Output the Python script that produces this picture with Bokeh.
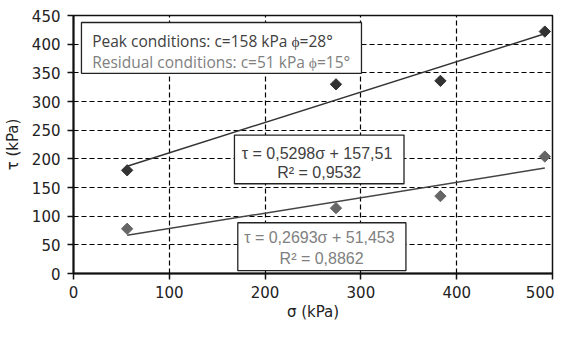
from bokeh.plotting import figure
from bokeh.models import Range1d, Label, BoxAnnotation, FixedTicker
from bokeh.embed import file_html
from bokeh.resources import INLINE
import numpy as np

# Data
sigma = [56, 274, 383, 492]
tau_peak = [180, 330, 336, 422]
tau_resid = [78, 114, 135, 204]

peak_slope, peak_icpt = 0.5298, 157.51
res_slope, res_icpt = 0.2693, 51.453

x_ticks = [0, 100, 200, 300, 400, 500]
y_ticks = [0, 50, 100, 150, 200, 250, 300, 350, 400, 450]

legend_lines = ["Peak conditions: c=158 kPa \u03d5=28\u00b0", "Residual conditions: c=51 kPa \u03d5=15\u00b0"]
eq_peak = ["\u03c4 = 0,5298\u03c3  + 157,51", "R\u00b2 = 0,9532"]
eq_res = ["\u03c4 = 0,2693\u03c3  + 51,453", "R\u00b2 = 0,8862"]

p = figure(width=554, height=323, output_backend="svg", toolbar_location=None,
           x_range=Range1d(0, 500), y_range=Range1d(0, 450),
           min_border_left=72, min_border_right=2, min_border_top=15, min_border_bottom=44)
p.outline_line_color = "#111111"
p.outline_line_width = 1.5
p.background_fill_color = "white"
p.border_fill_color = "white"

for ax, ticks in ((p.xaxis[0], x_ticks), (p.yaxis[0], y_ticks)):
    ax.ticker = FixedTicker(ticks=ticks)
    ax.minor_tick_line_color = None
    ax.major_tick_out = 6
    ax.major_tick_in = 0
    ax.axis_line_color = "#111111"
    ax.axis_line_width = 2
    ax.major_tick_line_color = "#111111"
    ax.major_tick_line_width = 1.5
    ax.major_label_text_font = "DejaVu Sans"
    ax.major_label_text_font_size = "15px"
    ax.major_label_text_color = "#222222"
    ax.axis_label_text_font = "DejaVu Sans"
    ax.axis_label_text_font_size = "15px"
    ax.axis_label_text_font_style = "normal"
    ax.axis_label_text_color = "#222222"

p.xaxis.axis_label = "\u03c3 (kPa)"
p.yaxis.axis_label = "\u03c4 (kPa)"
p.xaxis.major_label_standoff = 6
p.xaxis.axis_label_standoff = 2
p.yaxis.major_label_standoff = 7
p.yaxis.axis_label_standoff = 7

p.xgrid.grid_line_color = "black"
p.ygrid.grid_line_color = "black"
p.xgrid.grid_line_dash = "5 3"
p.ygrid.grid_line_dash = "5 3"
p.xgrid.grid_line_width = 1.2
p.ygrid.grid_line_width = 1.2

# Trend lines over data range
xs = np.array([min(sigma), max(sigma)], dtype=float)
p.line(xs, peak_slope * xs + peak_icpt, line_color="#333333", line_width=1.5)
p.line(xs, res_slope * xs + res_icpt, line_color="#444444", line_width=1.5)

p.scatter(sigma, tau_peak, marker="square", angle=np.pi / 4, size=8,
          fill_color="#333333", line_color="#333333")
p.scatter(sigma, tau_resid, marker="square", angle=np.pi / 4, size=8,
          fill_color="#666666", line_color="#666666")

# Text boxes
def box(l, r, b, t):
    p.add_layout(BoxAnnotation(left=l, right=r, bottom=b, top=t, fill_color="white", fill_alpha=1,
                               line_color="#222222", line_alpha=1, line_width=1.3, level="overlay"))

box(8.3, 300.6, 349.2, 437.8)
box(168.0, 345.0, 156.5, 241.5)
box(171.5, 347.0, 5.0, 88.5)

def lab(x, y, text, color, align="left", font="Open Sans", size="16px"):
    p.add_layout(Label(x=x, y=y, text=text, text_color=color, text_align=align,
                       text_baseline="middle", text_font=font, text_font_size=size,
                       level="overlay"))

lab(19.5, 406, legend_lines[0], "#404040", size="15.5px")
lab(19.5, 369, legend_lines[1], "#808080", size="15.5px")
lab(256.5, 210, eq_peak[0], "#404040", align="center", font="Liberation Sans")
lab(256.5, 176, eq_peak[1], "#404040", align="center", font="Liberation Sans")
lab(259, 63, eq_res[0], "#808080", align="center", font="Liberation Sans")
lab(259, 27, eq_res[1], "#808080", align="center", font="Liberation Sans")

open("out.html", "w").write(file_html(p, INLINE))
